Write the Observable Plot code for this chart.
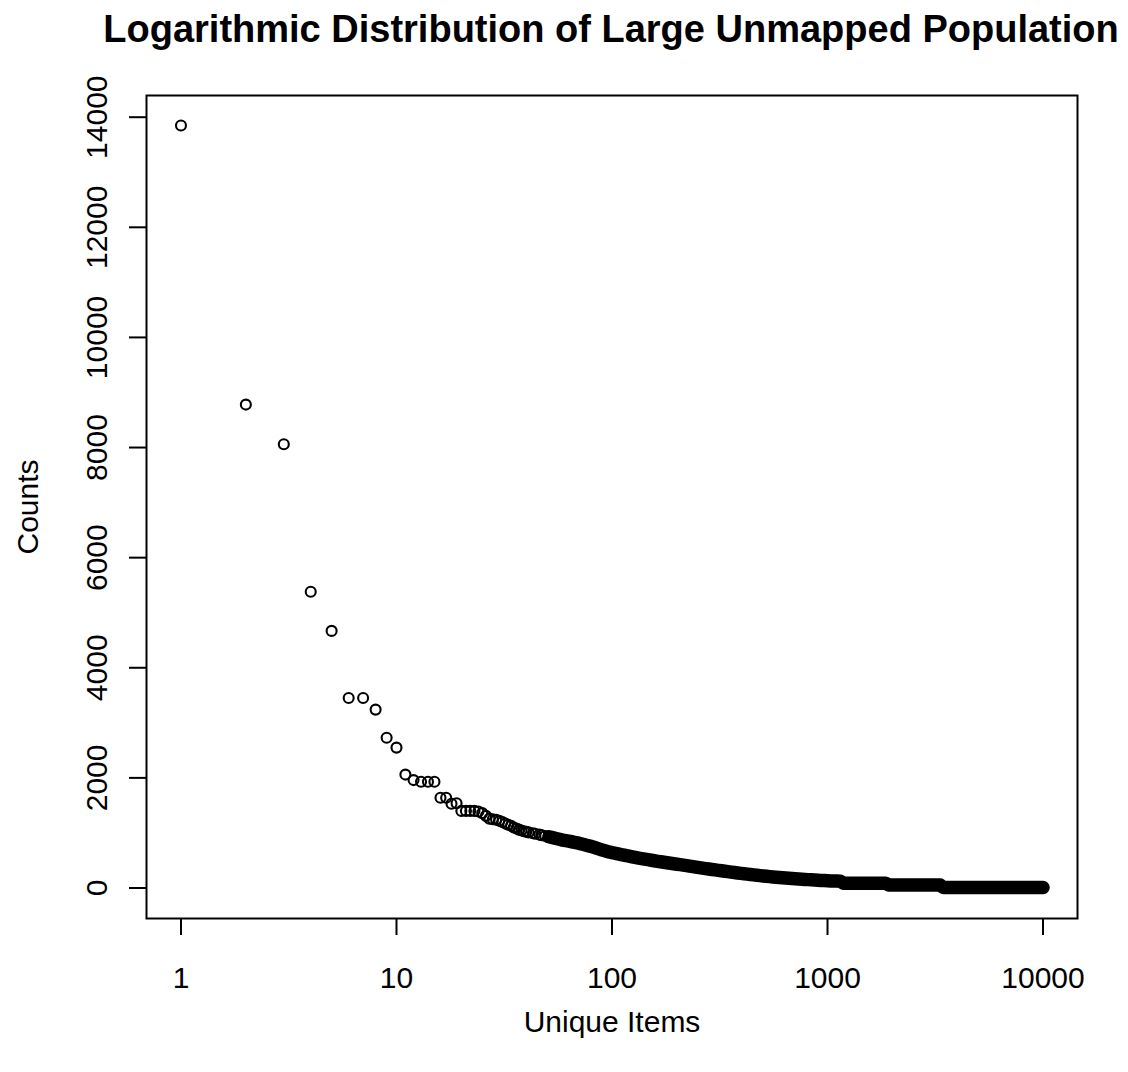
<!DOCTYPE html>
<html>
<head>
<meta charset="utf-8">
<script src="https://cdn.jsdelivr.net/npm/d3@7"></script>
<script src="https://cdn.jsdelivr.net/npm/@observablehq/plot@0.6"></script>
<style>
  html, body { margin: 0; padding: 0; background: #fff; }
  #wrap { position: relative; width: 1128px; height: 1072px; font-family: "Liberation Sans", Arial, sans-serif; }
  #title { position: absolute; left: 611px; top: 10px; line-height: 38px; transform: translateX(-50%); white-space: nowrap; font-weight: bold; font-size: 38px; color: #000; z-index: 2; }
  #chart { position: absolute; left: 0; top: 0; }
</style>
</head>
<body>
<div id="wrap">
  <div id="title">Logarithmic Distribution of Large Unmapped Population</div>
  <div id="chart"></div>
</div>
<script>
// Head of the distribution: rank (unique item) and count
const headItems = [1,2,3,4,5,6,7,8,9,10,11,12,13,14,15,16,17,18,19,20,21,22,23,24,25,26,27,28,29,30,31,32,33,34,35,36,37,38,39];
const headCounts = [13850,8780,8060,5380,4670,3450,3450,3240,2730,2550,2060,1960,1930,1930,1930,1640,1640,1530,1540,1400,1400,1400,1400,1390,1360,1310,1260,1250,1240,1220,1200,1170,1150,1130,1100,1080,1060,1045,1030];

// Dense tail (readings along the band of overlapping circles)
const tailItems = [
  40,41,43,44,46,47,49,51,53,55,
  57,59,61,63,65,67,69,72,74,77,
  80,83,86,89,92,95,98,101,105,108,
  112,116,120,124,128,133,137,142,147,152,
  157,163,168,174,180,187,193,200,207,214,
  222,229,237,245,254,263,272,281,291,301,
  312,322,334,345,357,370,383,396,410,424,
  439,454,470,486,503,521,539,558,577,597,
  618,640,662,685,709,734,760,786,814,842,
  871,902,933,966,1000,1035,1071,1108,1147,
  1187,1229,1272,1316,1362,1410,1459,1510,1563,1618,1674,1733,1793,1856,
  1921,1988,2058,2130,2204,2281,2361,2444,2529,2618,2709,2804,2902,3004,3109,3218,3330,
  3447,3567,3692,3821,3955,4093,4237,4385,4538,4697,4861,5031,5207,5390,5578,5773,5975,6184,6401,6625,6856,7096,7345,7602,7868,8143,8428,8723,9028,9344,9671,10000
];
const tailCounts = [
  1020,1010,995,985,970,960,945,930,915,900,
  885,870,860,850,840,830,820,800,790,770,
  755,735,715,695,680,665,650,640,625,615,
  600,590,578,567,556,544,535,524,514,504,
  495,484,476,467,458,449,441,432,424,416,
  407,398,389,380,371,362,353,345,337,329,
  321,313,305,297,289,281,273,266,259,252,
  245,238,231,225,219,212,206,201,196,191,
  186,181,177,172,168,164,160,156,152,148,
  145,141,138,135,132,129,127,125,123,
  88,88,88,88,88,88,88,88,88,88,88,88,88,88,
  55,55,55,55,55,55,55,55,55,55,55,55,55,55,55,55,55,
  8,8,8,8,8,8,8,8,8,8,8,8,8,8,8,8,8,8,8,8,8,8,8,8,8,8,8,8,8,8,8,8
];

const xTicks = [1, 10, 100, 1000, 10000];
const yTicks = [0, 2000, 4000, 6000, 8000, 10000, 12000, 14000];

const head = headItems.map((x, i) => ({x, y: headCounts[i]}));
const tail = tailItems.map((x, i) => ({x, y: tailCounts[i]}));
const data = head.concat(tail);
const band = tail.filter(d => d.x >= 50);

const FS = 30;
const chart = Plot.plot({
  width: 1128,
  height: 1072,
  marginLeft: 146,
  marginRight: 51,
  marginTop: 95,
  marginBottom: 154,
  style: { fontFamily: "'Liberation Sans', Arial, sans-serif", fontSize: FS + "px", background: "transparent", color: "#000" },
  x: { type: "log", domain: [Math.pow(10, -0.16), Math.pow(10, 4.16)], axis: null },
  y: { domain: [-554, 14394], axis: null },
  marks: [
    Plot.frame({ stroke: "#000", strokeWidth: 2 }),
    Plot.axisX({ ticks: xTicks, tickSize: 17, tickFormat: () => "", label: null, strokeWidth: 2 }),
    Plot.axisY({ ticks: yTicks, tickSize: 17, tickFormat: () => "", label: null, strokeWidth: 2 }),
    Plot.text(xTicks, { x: d => d, text: d => String(d), frameAnchor: "bottom", lineAnchor: "middle", textAnchor: "middle", dy: 60, fontSize: FS }),
    Plot.text(yTicks, { y: d => d, text: d => String(d), frameAnchor: "left", lineAnchor: "middle", textAnchor: "middle", dx: -49, rotate: -90, fontSize: FS }),
    Plot.text(["Unique Items"], { text: d => d, frameAnchor: "bottom", lineAnchor: "middle", textAnchor: "middle", dy: 104, fontSize: FS }),
    Plot.text(["Counts"], { text: d => d, frameAnchor: "left", lineAnchor: "middle", textAnchor: "middle", dx: -118, rotate: -90, fontSize: FS }),
    Plot.dot(data, { x: "x", y: "y", r: 5, stroke: "#000", strokeWidth: 2.1, fill: "none" }),
    Plot.line(band, { x: "x", y: "y", stroke: "#000", strokeWidth: 13.5, strokeLinecap: "round", strokeLinejoin: "round" })
  ]
});
document.getElementById("chart").appendChild(chart);
</script>
</body>
</html>
